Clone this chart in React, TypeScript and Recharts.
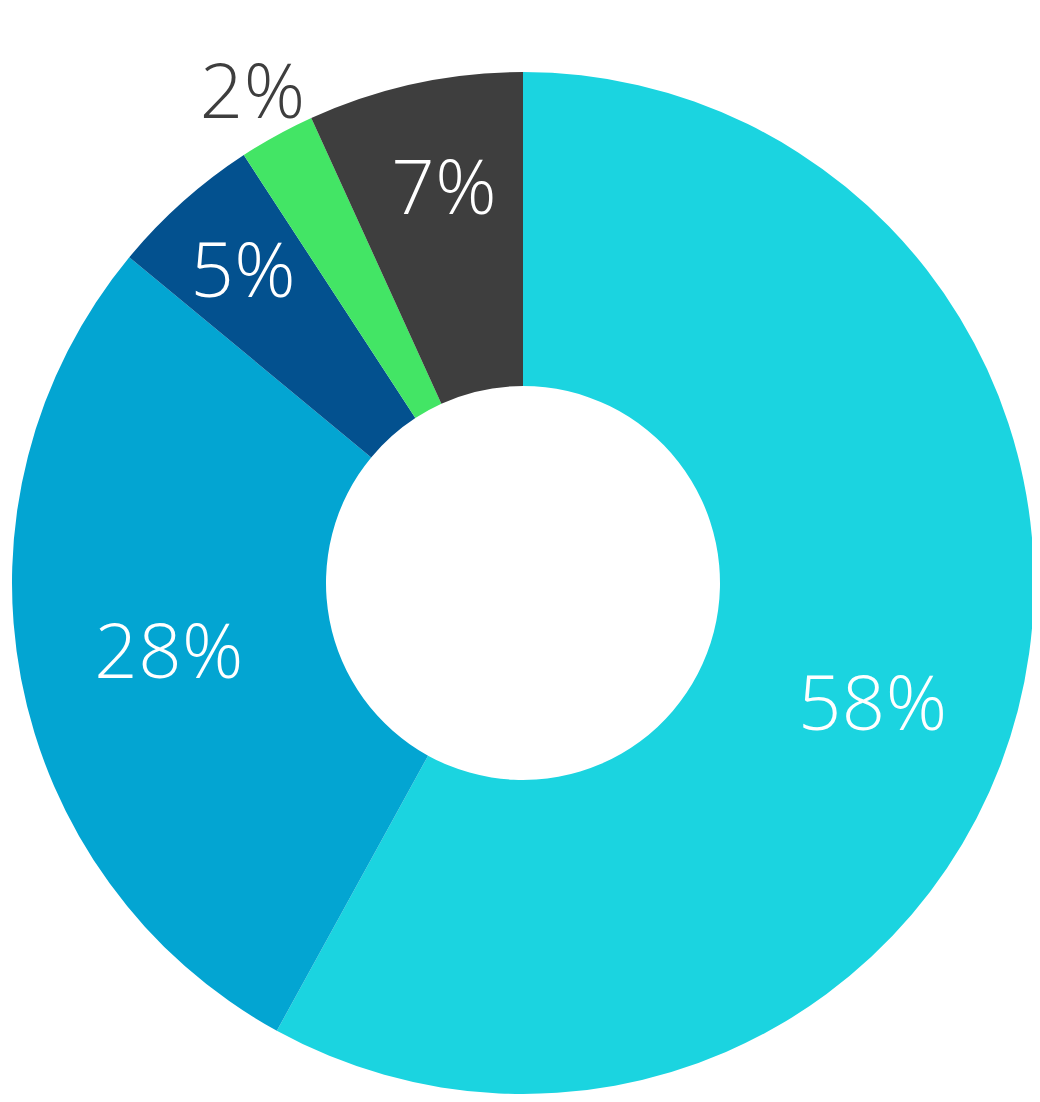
import * as React from "react";
import { PieChart, Pie, Cell } from "recharts";

const sliceNames = ["A", "B", "C", "D", "E"];
const sliceValues = [58, 28, 4.8, 2.4, 6.8];
const sliceColors = ["#1BD4E0", "#03A5D2", "#03518F", "#43E565", "#3E3E3E"];

const data = sliceNames.map((name, i) => ({ name, value: sliceValues[i] }));

const RAD = Math.PI / 180;
const FONT = "'Open Sans', 'Noto Sans', sans-serif";

function renderLabel(props: any) {
  const { cx, cy, midAngle, innerRadius, outerRadius, percent, value } = props;
  const band = outerRadius - innerRadius;
  let r = innerRadius + band * 0.52;
  let ang = midAngle;
  let fill = "#ffffff";
  if (percent < 0.03) {
    // too thin to hold text, put it outside the ring
    r = outerRadius + 50;
    fill = "#3E3E3E";
  } else if (percent < 0.06) {
    r = innerRadius + band * 0.71;
  } else if (percent < 0.1) {
    r = innerRadius + band * 0.66;
    ang = midAngle - 1;
  } else if (percent > 0.5) {
    ang = midAngle - 4.5;
    r = innerRadius + band * 0.55;
  }
  const x = cx + r * Math.cos(-ang * RAD);
  const y = cy + r * Math.sin(-ang * RAD);
  return (
    <text
      x={x}
      y={y + 27}
      fill={fill}
      textAnchor="middle"
      fontFamily={FONT}
      fontWeight={300}
      fontSize={76}
      letterSpacing={0.5}
    >
      {Math.round(value)}%
    </text>
  );
}

export default function App() {
  return (
    <div style={{ width: 1024, height: 1094 }}>
      <PieChart width={1024} height={1094} margin={{ top: 0, right: 0, bottom: 0, left: 0 }}>
        <Pie
          data={data}
          dataKey="value"
          nameKey="name"
          cx={515}
          cy={575}
          innerRadius={197}
          outerRadius={511}
          startAngle={90}
          endAngle={-270}
          stroke="none"
          label={renderLabel}
          labelLine={false}
          isAnimationActive={false}
        >
          {data.map((d, i) => (
            <Cell key={d.name} fill={sliceColors[i]} />
          ))}
        </Pie>
      </PieChart>
    </div>
  );
}
